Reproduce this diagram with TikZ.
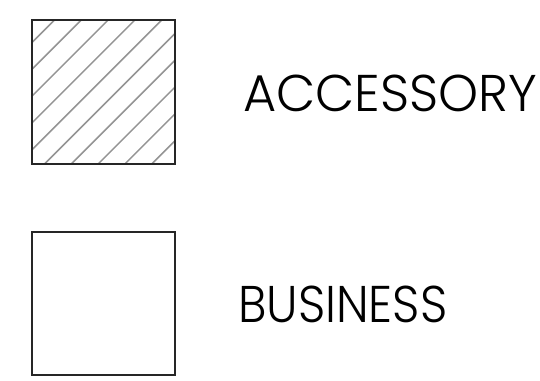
\documentclass[tikz,border=0pt]{standalone}
\usepackage{fontspec}
\setmainfont{Poppins}[UprightFont=* Light]
\usepackage{graphicx}
\begin{document}
\begin{tikzpicture}[x=1pt,y=1pt,
  legendbox/.style={draw=black!85, line width=1.6pt, fill=white},
  hatchline/.style={draw=black!42, line width=1.5pt},
  legendtext/.style={inner sep=0pt, anchor=south west}]
\useasboundingbox (0,0) rectangle (540,380);
% accessory square (hatched)
\begin{scope}
  \clip (31,215) rectangle (174,359);
  \foreach \k in {0,...,9}{
    \pgfmathsetmacro{\c}{74.5+26.8*\k}
    \draw[hatchline] (0,{380-\c}) -- (220,{600-\c});
  }
\end{scope}
\node[legendbox, minimum width=143pt, minimum height=144pt, fill=none, anchor=south west, inner sep=0pt] (acc) at (31,215) {};
% business square
\node[legendbox, minimum width=143pt, minimum height=143pt, anchor=south west, inner sep=0pt] (bus) at (31,4) {};
% labels
\node[legendtext] (acctext) at (243,268.3) {\resizebox{294pt}{36.5pt}{ACCESSORY}};
\node[legendtext] (bustext) at (238,57.3) {\resizebox{209pt}{36.5pt}{BUSINESS}};
\end{tikzpicture}
\end{document}
